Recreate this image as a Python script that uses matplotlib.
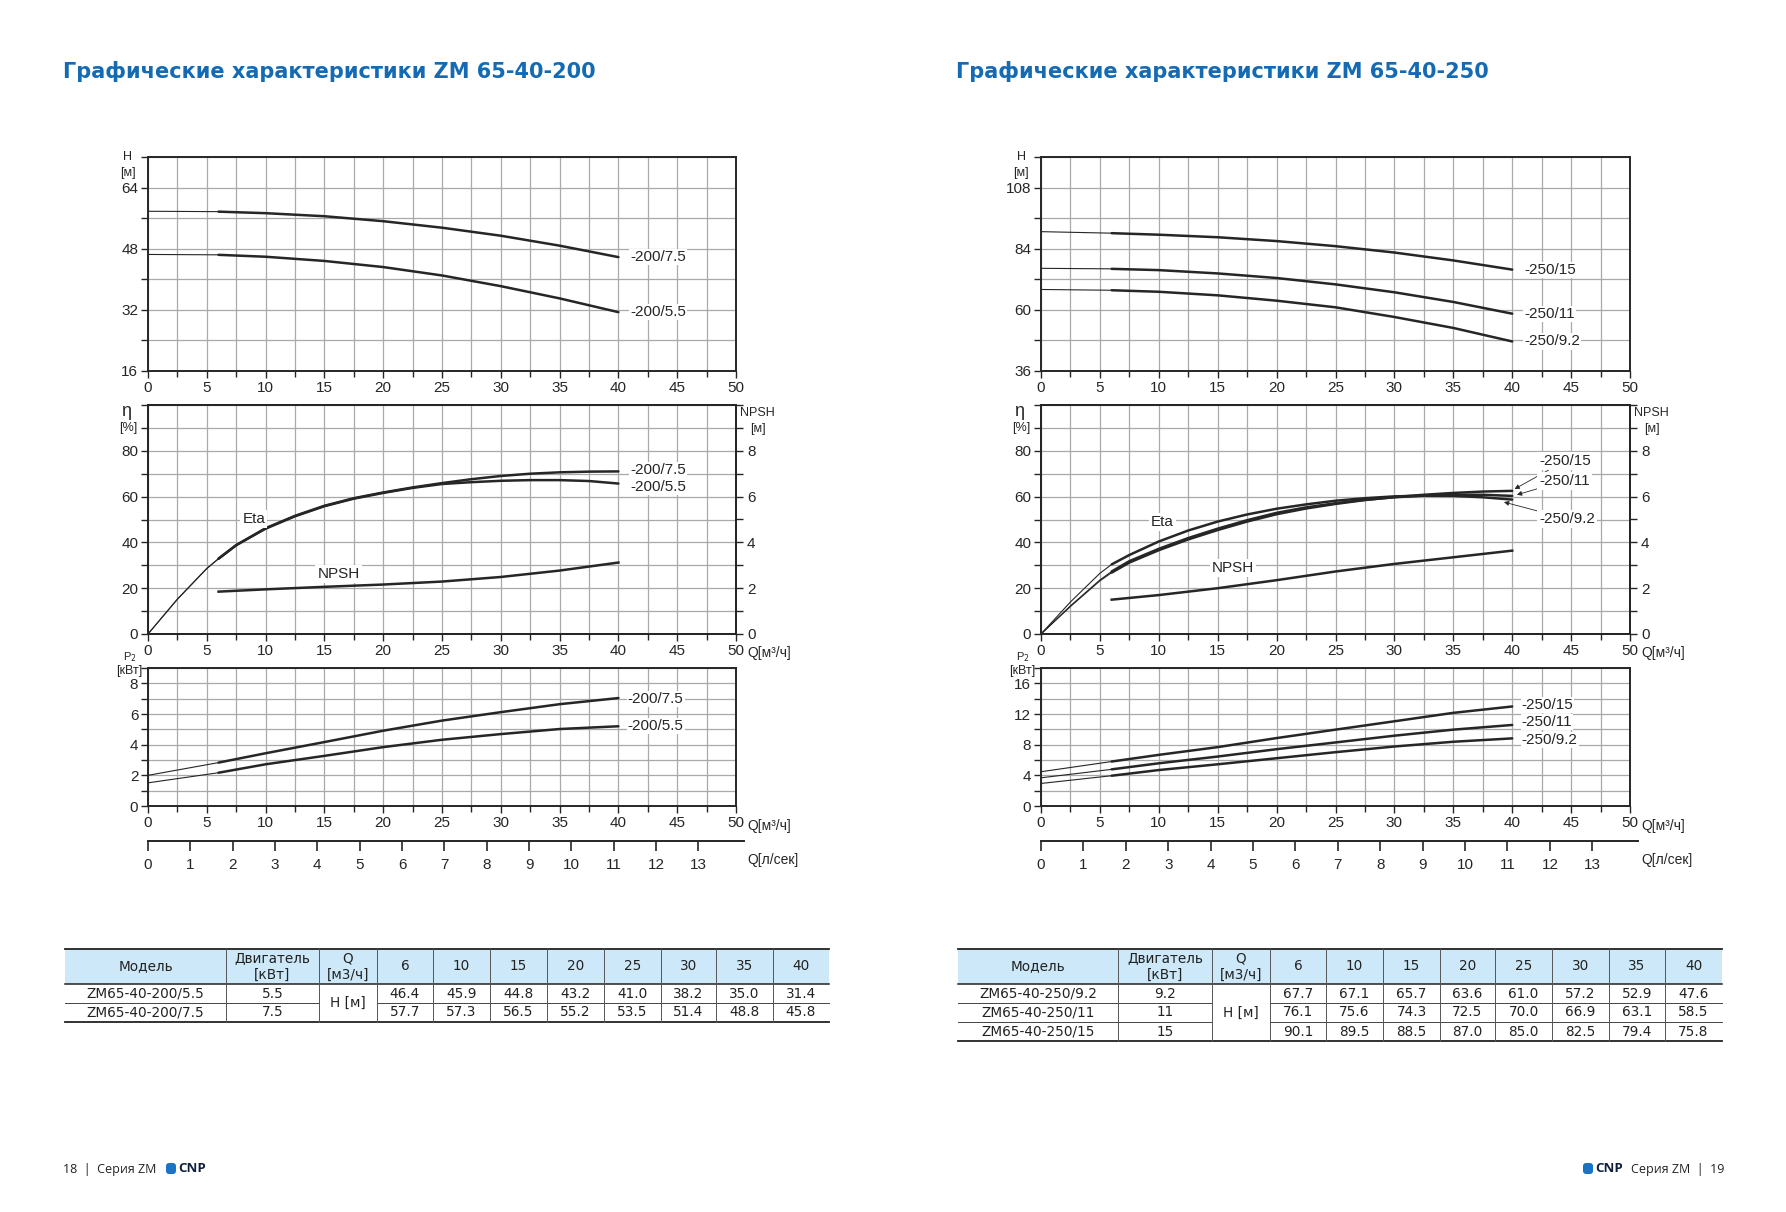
import matplotlib
matplotlib.use('Agg')
import matplotlib.pyplot as plt
from matplotlib.patches import Rectangle, FancyBboxPatch
import numpy as np

W, H = 1786, 1212
plt.rcParams['font.family'] = ['Liberation Sans Narrow', 'Liberation Sans', 'DejaVu Sans']
UI_FONT = ['DejaVu Sans']

# ---------------- data ----------------
q_tab = [6, 10, 15, 20, 25, 30, 35, 40]
q_h = [0] + q_tab
q_p = [0, 6, 10, 15, 20, 25, 30, 35, 40]
q_eta = [0, 2.5, 5, 6, 7.5, 10, 12.5, 15, 17.5, 20, 22.5, 25, 27.5, 30, 32.5, 35, 37.5, 40]

# ZM 65-40-200
models_200 = ['ZM65-40-200/5.5', 'ZM65-40-200/7.5']
motor_200 = ['5.5', '7.5']
tags_200 = ['-200/5.5', '-200/7.5']
h_200_55 = [46.4, 45.9, 44.8, 43.2, 41.0, 38.2, 35.0, 31.4]
h_200_75 = [57.7, 57.3, 56.5, 55.2, 53.5, 51.4, 48.8, 45.8]
h0_200 = [46.5, 57.8]
eta_200_55 = [0, 15.2, 28.6, 32.9, 38.8, 46.0, 51.4, 55.8, 59.1, 61.6, 63.8, 65.5, 66.3, 66.9, 67.2, 67.2, 66.8, 65.7]
eta_200_75 = [0, 15.2, 28.6, 32.9, 38.8, 46.2, 51.6, 56.0, 59.3, 61.8, 64.0, 65.9, 67.6, 69.0, 70.0, 70.6, 70.9, 71.0]
npsh_200 = [1.85, 1.95, 2.06, 2.16, 2.29, 2.49, 2.77, 3.12]
p_200_55 = [1.51, 2.17, 2.72, 3.27, 3.84, 4.32, 4.69, 5.02, 5.20]
p_200_75 = [2.00, 2.83, 3.44, 4.17, 4.91, 5.57, 6.12, 6.64, 7.04]
ptag_200 = [5.2, 7.0]

# ZM 65-40-250
models_250 = ['ZM65-40-250/9.2', 'ZM65-40-250/11', 'ZM65-40-250/15']
motor_250 = ['9.2', '11', '15']
tags_250 = ['-250/9.2', '-250/11', '-250/15']
h_250_92 = [67.7, 67.1, 65.7, 63.6, 61.0, 57.2, 52.9, 47.6]
h_250_11 = [76.1, 75.6, 74.3, 72.5, 70.0, 66.9, 63.1, 58.5]
h_250_15 = [90.1, 89.5, 88.5, 87.0, 85.0, 82.5, 79.4, 75.8]
h0_250 = [68.0, 76.3, 90.7]
eta_250_92 = [0, 14.0, 26.5, 30.4, 34.5, 40.4, 45.2, 49.1, 52.2, 54.7, 56.6, 58.2, 59.3, 60.1, 60.4, 60.3, 59.7, 58.7]
eta_250_11 = [0, 12.3, 23.6, 27.3, 31.8, 37.2, 41.9, 46.0, 49.7, 52.9, 55.3, 57.1, 58.6, 59.7, 60.4, 60.8, 60.8, 60.3]
eta_250_15 = [0, 12.0, 23.2, 26.8, 31.2, 36.6, 41.3, 45.4, 49.1, 52.3, 54.8, 56.8, 58.5, 59.8, 60.8, 61.6, 62.2, 62.5]
npsh_250 = [1.50, 1.70, 2.00, 2.35, 2.73, 3.06, 3.35, 3.64]
p_250_92 = [2.94, 3.95, 4.69, 5.44, 6.23, 7.02, 7.76, 8.38, 8.82]
p_250_11 = [3.68, 4.78, 5.57, 6.45, 7.41, 8.29, 9.17, 9.96, 10.57]
p_250_15 = [4.47, 5.80, 6.67, 7.68, 8.86, 9.96, 11.05, 12.15, 12.98]
ptag_250 = [8.6, 11.0, 13.2]

# ---------------- figure ----------------
fig = plt.figure(figsize=(W / 100, H / 100), dpi=100)
bg = fig.add_axes([0, 0, 1, 1])
bg.set_xlim(0, W)
bg.set_ylim(H, 0)
bg.axis('off')

INK = '#262626'
GRID = '#a9a9a9'


def panel(left, right, top, bottom):
    return fig.add_axes([left / W, 1 - bottom / H, (right - left) / W, (bottom - top) / H])


def style(ax, ylim, major, minor):
    ax.set_xlim(0, 50)
    ax.set_ylim(*ylim)
    ax.set_xticks(np.arange(0, 51, 5))
    ax.set_xticks(np.arange(0, 50.1, 2.5), minor=True)
    ax.set_yticks(major)
    ax.set_yticks(minor, minor=True)
    ax.grid(which='both', color=GRID, lw=0.9)
    ax.set_axisbelow(True)
    for s in ax.spines.values():
        s.set_color(INK)
        s.set_linewidth(1.4)
    ax.tick_params(which='both', direction='out', length=5, width=1, colors=INK, labelsize=11, pad=2)
    ax.tick_params(axis='x', which='minor', length=4)


def curve(ax, q, v):
    q = np.asarray(q, float)
    v = np.asarray(v, float)
    ax.plot(q[q <= 6], v[q <= 6], color=INK, lw=0.8, solid_joinstyle='round')
    ax.plot(q[q >= 6], v[q >= 6], color=INK, lw=1.8, solid_joinstyle='round', solid_capstyle='round')


def tag(ax, x, y, s):
    ax.text(x, y, s, ha='left', va='center', fontsize=11, color=INK,
            bbox=dict(facecolor='white', edgecolor='none', pad=0.8))


def draw_page(L, R, title, heads, h0, hlim, hmaj, hmin, etas, npsh, powers, ptags, plim, pmaj, pmin,
              tags, eta_tags):
    bg.text(63 + (L - 148), 72, title, fontsize=15, fontweight='bold', color='#156bb3',
            family=UI_FONT, va='center', ha='left')

    # H-Q
    ax = panel(L, R, 157, 371)
    style(ax, hlim, hmaj, hmin)
    for h, v0, t in zip(heads, h0, tags):
        curve(ax, q_h, [v0] + h)
        tag(ax, 41, h[-1], t)
    bg.text(L - 20, 157, 'H', fontsize=9, ha='center', va='center', color=INK)
    bg.text(L - 20, 173, '[м]', fontsize=9, ha='center', va='center', color=INK)

    # eta / NPSH
    ax = panel(L, R, 405, 634)
    style(ax, (0, 100), [0, 20, 40, 60, 80], np.arange(0, 101, 10))
    for e in etas:
        curve(ax, q_eta, e)
    ax2 = ax.twinx()
    ax2.set_ylim(0, 10)
    ax2.set_yticks([0, 2, 4, 6, 8])
    ax2.set_yticks(np.arange(0, 11, 1), minor=True)
    ax2.tick_params(which='both', direction='out', length=5, width=1, colors=INK, labelsize=11, pad=3)
    for s in ax2.spines.values():
        s.set_color(INK)
        s.set_linewidth(1.4)
    ax2.plot(q_tab, npsh, color=INK, lw=1.8, solid_joinstyle='round')
    ax.text(npsh_lbl[0], npsh_lbl[1], 'NPSH', ha='center', va='center', fontsize=11, color=INK,
            bbox=dict(facecolor='white', edgecolor='none', pad=1.5))
    ax.text(eta_lbl[0], eta_lbl[1], 'Eta', ha='center', va='center', fontsize=11, color=INK,
            bbox=dict(facecolor='white', edgecolor='none', pad=1.5))
    eta_tags(ax)
    bg.text(L - 22, 411, 'η', fontsize=13, ha='center', va='center', color=INK)
    bg.text(L - 20, 428, '[%]', fontsize=9, ha='center', va='center', color=INK)
    bg.text(R + 21, 413, 'NPSH', fontsize=9, ha='center', va='center', color=INK)
    bg.text(R + 22, 429, '[м]', fontsize=9, ha='center', va='center', color=INK)
    bg.text(R + 11, 653, 'Q[м³/ч]', fontsize=10, ha='left', va='center', color=INK)

    # P2-Q
    ax = panel(L, R, 668, 806)
    style(ax, plim, pmaj, pmin)
    for p, t, ty in zip(powers, tags, ptags):
        curve(ax, q_p, p)
        tag(ax, 40.8, ty, t)
    bg.text(L - 18, 657, 'P$_2$', fontsize=8, ha='center', va='center', color=INK)
    bg.text(L - 19, 671, '[кВт]', fontsize=9, ha='center', va='center', color=INK)
    bg.text(R + 11, 826, 'Q[м³/ч]', fontsize=10, ha='left', va='center', color=INK)

    # second flow axis in l/s
    axl = panel(L, R, 840, 841)
    axl.set_xlim(0, 50 / 3.6)
    axl.set_yticks([])
    axl.patch.set_visible(False)
    for s in ['top', 'left', 'right']:
        axl.spines[s].set_visible(False)
    axl.spines['bottom'].set_bounds(0, 50.7 / 3.6)
    axl.spines['bottom'].set_color(INK)
    axl.spines['bottom'].set_linewidth(1.4)
    axl.set_xticks(range(14))
    axl.tick_params(direction='out', length=7, width=1.2, colors=INK, labelsize=11, pad=5)
    bg.text(R + 11, 860, 'Q[л/сек]', fontsize=10, ha='left', va='center', color=INK)


def table(x_edges, y_top, models, motors, rows):
    hdr_b = y_top + 35
    row_h = 19
    n = len(models)
    y_bot = hdr_b + n * row_h
    x0, x1 = x_edges[0], x_edges[-1]
    fs = 9.8
    bg.add_patch(Rectangle((x0, y_top), x1 - x0, hdr_b - y_top, facecolor='#cde9f9', edgecolor='none'))
    cx = [(a + b) / 2 for a, b in zip(x_edges[:-1], x_edges[1:])]
    heads = ['Модель', 'Двигатель\n[кВт]', 'Q\n[м3/ч]'] + [str(q) for q in q_tab]
    for c, t in zip(cx, heads):
        bg.text(c, (y_top + hdr_b) / 2, t, ha='center', va='center', fontsize=fs, family=UI_FONT,
                color='#222', linespacing=1.25)
    for i in range(n):
        yc = hdr_b + row_h * (i + 0.5)
        bg.text(cx[0], yc, models[i], ha='center', va='center', fontsize=fs, family=UI_FONT, color='#222')
        bg.text(cx[1], yc, motors[i], ha='center', va='center', fontsize=fs, family=UI_FONT, color='#222')
        for c, v in zip(cx[3:], rows[i]):
            bg.text(c, yc, f'{v:.1f}', ha='center', va='center', fontsize=fs, family=UI_FONT, color='#222')
    bg.text(cx[2], (hdr_b + y_bot) / 2, 'H [м]', ha='center', va='center', fontsize=fs, family=UI_FONT,
            color='#222')
    # borders
    bg.plot([x0, x1], [y_top, y_top], color='#222', lw=1.3)
    bg.plot([x0, x1], [hdr_b, hdr_b], color='#222', lw=1.1)
    bg.plot([x0, x1], [y_bot, y_bot], color='#222', lw=1.3)
    for i in range(1, n):
        yy = hdr_b + row_h * i
        bg.plot([x0, x_edges[2]], [yy, yy], color='#444', lw=0.7)
        bg.plot([x_edges[3], x1], [yy, yy], color='#444', lw=0.7)
    for xe in x_edges[1:-1]:
        bg.plot([xe, xe], [y_top, y_bot], color='#555', lw=0.7)


def footer(x, page, left=True):
    if left:
        bg.text(x, 1169, f'{page}  |  Серия ZM', fontsize=9, family=['Open Sans', 'DejaVu Sans'],
                color='#222', va='center')
        lx = x + 103
    else:
        lx = x
        bg.text(x + 48, 1169, f'Серия ZM  |  {page}', fontsize=9, family=['Open Sans', 'DejaVu Sans'],
                color='#222', va='center')
    bg.add_patch(FancyBboxPatch((lx, 1163), 10, 11, boxstyle='round,pad=0,rounding_size=3',
                                facecolor='#1a73c4', edgecolor='none'))
    bg.text(lx + 12, 1169, 'CNP', fontsize=9.5, fontweight='bold', family=['Open Sans', 'DejaVu Sans'],
            color='#0d1f3c', va='center')


# left page
npsh_lbl = (16.2, 26.2)
eta_lbl = (9.0, 50.3)


def eta_tags_200(ax):
    tag(ax, 41, 71.6, tags_200[1])
    tag(ax, 41, 64.4, tags_200[0])


draw_page(148, 736, 'Графические характеристики ZM 65-40-200',
          [h_200_55, h_200_75], h0_200, (16, 72), [16, 32, 48, 64], np.arange(16, 73, 8),
          [eta_200_55, eta_200_75], npsh_200, [p_200_55, p_200_75], ptag_200, (0, 9), [0, 2, 4, 6, 8],
          np.arange(0, 10, 1), tags_200, eta_tags_200)

# right page
npsh_lbl = (16.3, 28.7)
eta_lbl = (10.3, 48.8)


def eta_tags_250(ax):
    arrow = dict(arrowstyle='-|>', lw=0.6, color=INK, mutation_scale=7, shrinkA=0, shrinkB=0)
    for t, xy, ytxt in [(tags_250[2], (40.2, 63.3), 75.6), (tags_250[1], (40.4, 60.8), 66.9),
                        (tags_250[0], (39.3, 57.6), 50.3)]:
        ax.annotate(t, xy=xy, xytext=(42.3, ytxt), fontsize=11, color=INK, va='center', ha='left',
                    arrowprops=arrow, bbox=dict(facecolor='white', edgecolor='none', pad=1.5))


draw_page(1041, 1630, 'Графические характеристики ZM 65-40-250',
          [h_250_92, h_250_11, h_250_15], h0_250, (36, 120), [36, 60, 84, 108], np.arange(36, 121, 12),
          [eta_250_92, eta_250_11, eta_250_15], npsh_250, [p_250_92, p_250_11, p_250_15], ptag_250,
          (0, 18), [0, 4, 8, 12, 16], np.arange(0, 19, 2), tags_250, eta_tags_250)

table([65, 226, 319, 377, 433, 490, 547, 604, 661, 716, 773, 829], 949,
      models_200, motor_200, [h_200_55, h_200_75])
table([958, 1118, 1212, 1270, 1326, 1383, 1440, 1495, 1552, 1609, 1665, 1722], 949,
      models_250, motor_250, [h_250_92, h_250_11, h_250_15])

footer(63, 18, left=True)
footer(1583, 19, left=False)

fig.savefig('out.png', dpi=100)
